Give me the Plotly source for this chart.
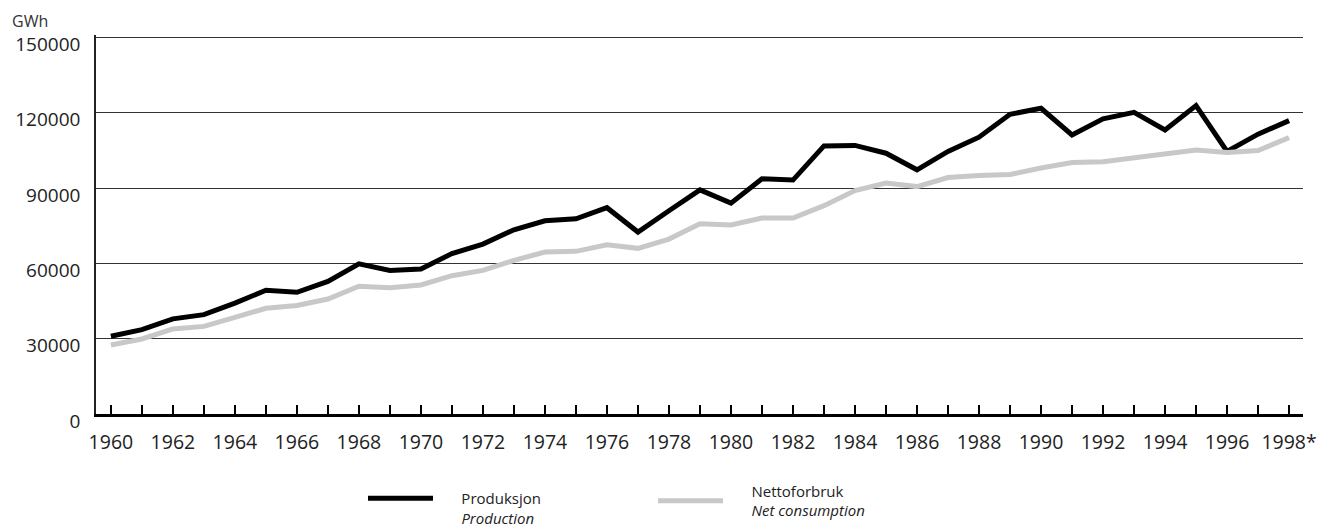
import plotly.graph_objects as go

years = list(range(1960, 1999))
production = [31000, 33600, 37900, 39600, 44200, 49300, 48500, 52800, 59800, 57200,
              57800, 63900, 67700, 73400, 77000, 77800, 82200, 72500, 81000, 89300,
              84000, 93700, 93200, 106800, 107000, 103900, 97300, 104600, 110300, 119400,
              121800, 111200, 117600, 120200, 113200, 122900, 104600, 111500, 116900]
consumption = [27500, 29900, 33900, 34900, 38500, 42100, 43200, 45800, 50900, 50300,
               51400, 55100, 57200, 61200, 64500, 64800, 67400, 66000, 69700, 75800,
               75300, 78100, 78100, 83000, 89000, 92000, 90600, 94200, 95000, 95400,
               98000, 100200, 100500, 102100, 103300, 105200, 104200, 105000, 110100]
xtick_vals = list(range(1960, 1999, 2))
xtick_text = [str(y) for y in xtick_vals[:-1]] + ["1998*"]
ytick_vals = [0, 30000, 60000, 90000, 120000, 150000]
ytick_text = ["0", "30000", "60000", "90000", "120000", "150000"]

FONT = "Open Sans"
PAD = "&nbsp;" * 6

fig = go.Figure()
fig.add_trace(go.Scatter(
    x=years, y=production, mode="lines",
    name=PAD + "Produksjon<br>" + PAD + "<i>Production</i>",
    line=dict(color="#000000", width=5),
    legend="legend",
))
fig.add_trace(go.Scatter(
    x=years, y=consumption, mode="lines",
    name=PAD + "Nettoforbruk<br>" + PAD + "<i>Net consumption</i>",
    line=dict(color="#c8c8c8", width=5),
    legend="legend2",
))

fig.update_layout(
    width=1332, height=532,
    margin=dict(l=88, r=37, t=27, b=125.5),
    paper_bgcolor="white", plot_bgcolor="white",
    font=dict(family=FONT, size=19, color="#222222"),
    showlegend=True,
    legend=dict(
        x=0.2212, xanchor="left", xref="paper",
        y=0.109, yanchor="top", yref="container",
        font=dict(family=FONT, size=15, color="#222222"),
        itemwidth=65, valign="top",
        bgcolor="rgba(0,0,0,0)",
    ),
    legend2=dict(
        x=0.4615, xanchor="left", xref="paper",
        y=0.1227, yanchor="top", yref="container",
        font=dict(family=FONT, size=15, color="#222222"),
        itemwidth=65, valign="middle",
        bgcolor="rgba(0,0,0,0)",
    ),
    annotations=[dict(
        text="GWh", xref="paper", yref="paper", x=-0.0704, y=1.0, yshift=26.5,
        xanchor="left", yanchor="top", showarrow=False, borderpad=0,
        font=dict(family=FONT, size=16, color="#333333"),
    )],
)

fig.update_xaxes(
    range=[1959.52, 1998.45], automargin=False,
    tickmode="array", tickvals=xtick_vals, ticktext=xtick_text,
    ticks="inside", ticklen=9, tickwidth=2, tickcolor="#000000",
    ticklabelstandoff=9,
    minor=dict(dtick=1, tick0=1960, ticks="inside", ticklen=9, tickwidth=2,
               tickcolor="#000000", showgrid=False),
    showline=True, linecolor="#000000", linewidth=2.5,
    showgrid=False, zeroline=False,
    tickfont=dict(family=FONT, size=19.5, color="#222222"),
)
fig.update_yaxes(
    range=[0, 151000], automargin=False,
    tickmode="array", tickvals=ytick_vals, ticktext=ytick_text,
    ticks="", ticklabelstandoff=10, ticklabelshift=7,
    showline=True, linecolor="#222222", linewidth=1.5,
    showgrid=True, gridcolor="#333333", gridwidth=1.3,
    zeroline=False,
    tickfont=dict(family=FONT, size=19, color="#222222"),
)

fig.write_html("out.html")
